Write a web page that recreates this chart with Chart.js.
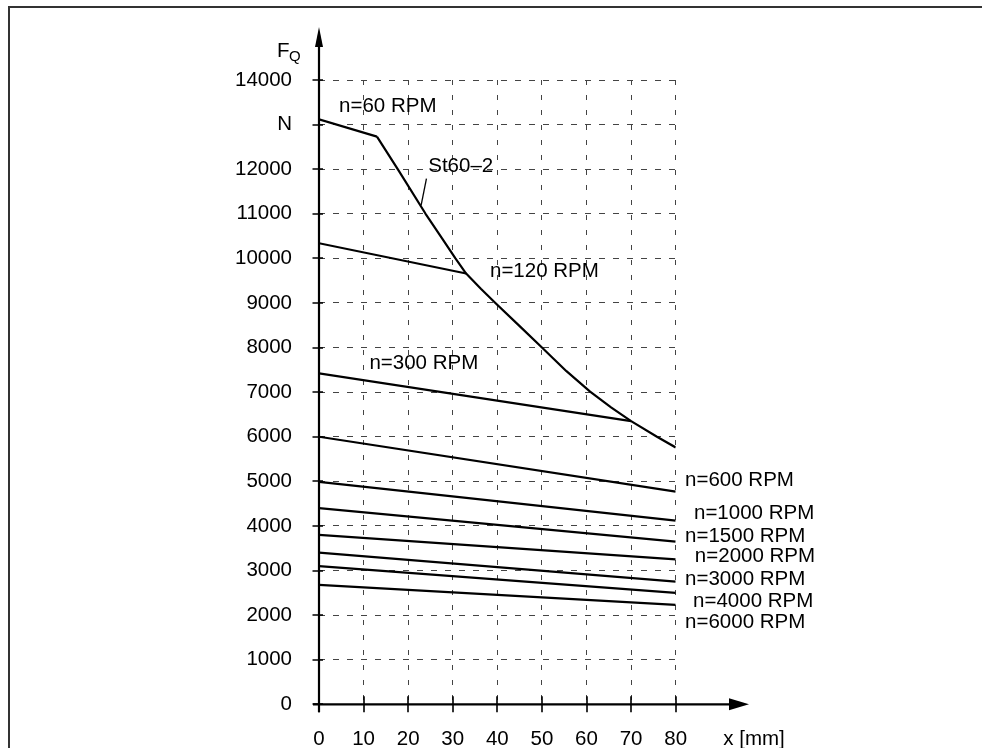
<!DOCTYPE html>
<html>
<head>
<meta charset="utf-8">
<script src="https://cdn.jsdelivr.net/npm/chart.js@4/dist/chart.umd.min.js"></script>
<style>
html,body{margin:0;padding:0;background:#fff;}
#wrap{width:982px;height:748px;position:relative;overflow:hidden;}
canvas{display:block;}
</style>
</head>
<body>
<div id="wrap"><canvas id="c" width="982" height="748"></canvas></div>
<script>
// ---- data ----
const xTicks = [0, 10, 20, 30, 40, 50, 60, 70, 80];
const yTicks = [0, 1000, 2000, 3000, 4000, 5000, 6000, 7000, 8000, 9000, 10000, 11000, 12000, 13000, 14000];
const yUnitTick = 13000;           // this tick carries the unit "N"

const rpm60X  = [0, 13];
const rpm60Y  = [13120, 12730];
const st60X   = [13, 17.8, 23.9, 27.6, 30.6, 33, 36.3, 39.5, 45, 50, 55.5, 60.8, 65.5, 70, 75.8, 80];
const st60Y   = [12730, 11980, 11000, 10450, 10000, 9660, 9320, 9005, 8480, 8000, 7470, 7010, 6660, 6350, 6000, 5760];
const rpm120X = [0, 33];
const rpm120Y = [10340, 9660];
const rpm300X = [0, 70];
const rpm300Y = [7420, 6350];
const lowX    = [0, 80];
const rpm600Y  = [6000, 4770];
const rpm1000Y = [4990, 4120];
const rpm1500Y = [4400, 3650];
const rpm2000Y = [3800, 3250];
const rpm3000Y = [3400, 2750];
const rpm4000Y = [3100, 2500];
const rpm6000Y = [2680, 2230];

const seriesNames = ['n=60 RPM','St60\u20132','n=120 RPM','n=300 RPM','n=600 RPM','n=1000 RPM','n=1500 RPM','n=2000 RPM','n=3000 RPM','n=4000 RPM','n=6000 RPM'];

// ---- annotation anchors (data coordinates) ----
const labelAnchors = [
  {t:'n=60 RPM',   x:4.5,  y:13420},
  {t:'St60\u20132',x:24.5, y:12060},
  {t:'n=120 RPM',  x:38.35,y:9700},
  {t:'n=300 RPM',  x:11.3, y:7650},
  {t:'n=600 RPM',  x:82.1, y:5030},
  {t:'n=1000 RPM', x:84.1, y:4290},
  {t:'n=1500 RPM', x:82.1, y:3775},
  {t:'n=2000 RPM', x:84.3, y:3310},
  {t:'n=3000 RPM', x:82.1, y:2805},
  {t:'n=4000 RPM', x:83.9, y:2317},
  {t:'n=6000 RPM', x:82.1, y:1830}
];
const leader = {x1:24.1, y1:11790, x2:22.9, y2:11190};

const FONT = '"Liberation Sans", Arial, Helvetica, sans-serif';
const FSIZE = 20.5;
const zip = (xs, ys) => xs.map((x, i) => ({x: x, y: ys[i]}));

function ds(name, xs, ys) {
  return {label: name, data: zip(xs, ys), showLine: true, borderColor: '#000',
          backgroundColor: '#000', borderWidth: 2.2, pointRadius: 0, tension: 0,
          borderJoinStyle: 'round', borderCapStyle: 'butt'};
}

const datasets = [
  ds(seriesNames[0], rpm60X, rpm60Y),
  ds(seriesNames[1], st60X, st60Y),
  ds(seriesNames[2], rpm120X, rpm120Y),
  ds(seriesNames[3], rpm300X, rpm300Y),
  ds(seriesNames[4], lowX, rpm600Y),
  ds(seriesNames[5], lowX, rpm1000Y),
  ds(seriesNames[6], lowX, rpm1500Y),
  ds(seriesNames[7], lowX, rpm2000Y),
  ds(seriesNames[8], lowX, rpm3000Y),
  ds(seriesNames[9], lowX, rpm4000Y),
  ds(seriesNames[10], lowX, rpm6000Y)
];

const decor = {
  id: 'decor',
  beforeDraw(chart) {
    const ctx = chart.ctx;
    ctx.save();
    ctx.fillStyle = '#fff';
    ctx.fillRect(0, 0, chart.width, chart.height);
    ctx.strokeStyle = '#333';
    ctx.lineWidth = 2;
    ctx.beginPath();
    ctx.moveTo(9, chart.height + 5);
    ctx.lineTo(9, 7);
    ctx.lineTo(chart.width + 5, 7);
    ctx.stroke();
    ctx.restore();
  },
  afterDraw(chart) {
    const ctx = chart.ctx;
    const xs = chart.scales.x, ys = chart.scales.y;
    const x0 = xs.getPixelForValue(0), y0 = ys.getPixelForValue(0);
    ctx.save();
    ctx.strokeStyle = '#000';
    ctx.fillStyle = '#000';
    ctx.lineWidth = 2.2;
    // axes
    ctx.beginPath();
    ctx.moveTo(x0, y0 + 8);
    ctx.lineTo(x0, 40);
    ctx.moveTo(x0 - 6, y0);
    ctx.lineTo(735, y0);
    ctx.stroke();
    // arrow heads
    ctx.beginPath();
    ctx.moveTo(x0, 27);
    ctx.lineTo(x0 - 4, 47);
    ctx.lineTo(x0 + 4, 47);
    ctx.closePath();
    ctx.fill();
    ctx.beginPath();
    ctx.moveTo(749, y0);
    ctx.lineTo(729, y0 - 6);
    ctx.lineTo(729, y0 + 6);
    ctx.closePath();
    ctx.fill();
    // tick marks
    ctx.lineWidth = 1.6;
    ctx.beginPath();
    yTicks.forEach(v => {
      const p = Math.round(ys.getPixelForValue(v));
      ctx.moveTo(x0 - 6.5, p);
      ctx.lineTo(x0 + 4, p);
    });
    xTicks.forEach(v => {
      const p = Math.round(xs.getPixelForValue(v));
      ctx.moveTo(p, y0 - 8);
      ctx.lineTo(p, y0 + 8);
    });
    ctx.stroke();
    // leader line
    ctx.lineWidth = 1.3;
    ctx.beginPath();
    ctx.moveTo(xs.getPixelForValue(leader.x1), ys.getPixelForValue(leader.y1));
    ctx.lineTo(xs.getPixelForValue(leader.x2), ys.getPixelForValue(leader.y2));
    ctx.stroke();
    // series labels
    ctx.font = FSIZE + 'px ' + FONT;
    ctx.textAlign = 'left';
    ctx.textBaseline = 'middle';
    labelAnchors.forEach(a => {
      ctx.fillText(a.t, xs.getPixelForValue(a.x), ys.getPixelForValue(a.y));
    });
    // axis titles
    ctx.textAlign = 'center';
    ctx.fillText('x [mm]', 754, 739);
    ctx.textAlign = 'left';
    ctx.textBaseline = 'alphabetic';
    ctx.fillText('F', 277, 57);
    ctx.font = '15px ' + FONT;
    ctx.fillText('Q', 289, 61);
    ctx.restore();
  }
};

new Chart(document.getElementById('c'), {
  type: 'scatter',
  data: {datasets: datasets},
  options: {
    responsive: false,
    animation: false,
    devicePixelRatio: 1,
    layout: {padding: {left: 0, top: 80, right: 306.3, bottom: 0}},
    plugins: {legend: {display: false}, tooltip: {enabled: false}},
    scales: {
      x: {
        type: 'linear', position: 'bottom', min: 0, max: 80,
        afterBuildTicks: s => { s.ticks = xTicks.map(v => ({value: v})); },
        afterFit: s => { s.height = 43.7; },
        ticks: {font: {family: FONT, size: FSIZE}, color: '#000', padding: 22.5,
                maxRotation: 0, autoSkip: false, callback: v => String(v)},
        grid: {color: '#444', lineWidth: 1, drawTicks: false},
        border: {display: false, dash: [5, 10]}
      },
      y: {
        type: 'linear', position: 'left', min: 0, max: 14000,
        afterBuildTicks: s => { s.ticks = yTicks.map(v => ({value: v})); },
        afterFit: s => { s.width = 319; },
        ticks: {font: {family: FONT, size: FSIZE}, color: '#000', padding: 27,
                autoSkip: false, callback: v => (v === yUnitTick ? 'N' : String(v))},
        grid: {color: '#444', lineWidth: 1, drawTicks: false},
        border: {display: false, dash: [6, 8]}
      }
    }
  },
  plugins: [decor]
});
</script>
</body>
</html>
